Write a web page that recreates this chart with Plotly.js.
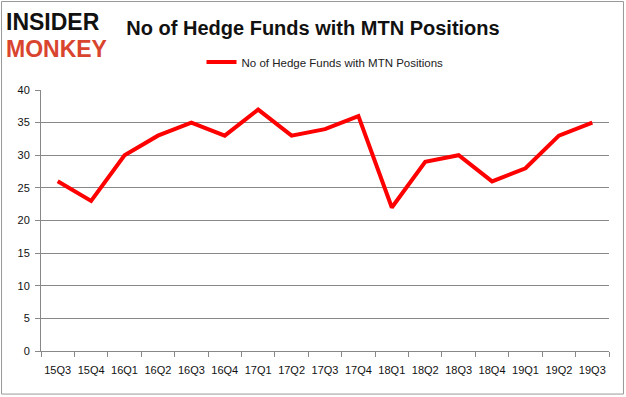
<!DOCTYPE html>
<html><head><meta charset="utf-8">
<script src="https://cdn.plot.ly/plotly-3.0.1.min.js"></script>
<style>html,body{margin:0;padding:0;background:#fff}#c{width:626px;height:397px}</style>
</head><body><div id="c"></div>
<script>
const quarters = ["15Q3","15Q4","16Q1","16Q2","16Q3","16Q4","17Q1","17Q2","17Q3","17Q4","18Q1","18Q2","18Q3","18Q4","19Q1","19Q2","19Q3"];
const hedgeFunds = [26,23,30,33,35,33,37,33,34,36,22,29,30,26,28,33,35];
const seriesName = "No of Hedge Funds with MTN Positions";
const yTicks = [0,5,10,15,20,25,30,35,40];

const trace = {
  x: quarters, y: hedgeFunds, type: "scatter", mode: "lines", name: seriesName,
  line: {color: "#ff0000", width: 4}
};
const layout = {
  width: 626, height: 397,
  margin: {l: 41, r: 17, t: 90, b: 46},
  paper_bgcolor: "#fff", plot_bgcolor: "#fff",
  font: {family: "Liberation Sans, Arial, sans-serif", size: 11, color: "#111"},
  title: {text: "<b>No of Hedge Funds with MTN Positions</b>", x: 0.5, xanchor: "center", xref: "container",
          y: 0.93, yanchor: "middle", yref: "container", font: {family: "Liberation Sans, Arial, sans-serif", size: 20, color: "#111"}},
  showlegend: true,
  legend: {orientation: "h", x: 0.5, xanchor: "center", y: 1.107, yanchor: "middle", font: {size: 11.5, color: "#222"}},
  xaxis: {type: "category", showline: true, linecolor: "#888", linewidth: 1, ticks: "outside", tickson: "boundaries",
          ticklen: 5, tickcolor: "#888", showgrid: false, tickfont: {size: 11}, tickangle: 0, ticklabelstandoff: 9,
          range: [-0.5, 16.5]},
  yaxis: {range: [0, 40], tickvals: yTicks, showline: true, linecolor: "#888", linewidth: 1, ticks: "outside",
          ticklen: 5, tickcolor: "#888", gridcolor: "#888", gridwidth: 1, zeroline: false, tickfont: {size: 11},
          ticklabelstandoff: 3},
  shapes: [{type: "rect", xref: "paper", yref: "paper", x0: -0.0695, x1: 1.0255, y0: -0.165, y1: 1.339,
            line: {color: "#999", width: 1}, fillcolor: "rgba(0,0,0,0)"}],
  annotations: [
    {text: "<b>INSIDER</b>", xref: "paper", yref: "paper", x: -0.065, y: 1.318, xanchor: "left", yanchor: "top", showarrow: false,
     font: {family: "Liberation Sans, sans-serif", size: 23, color: "#111"}},
    {text: "<b>MONKEY</b>", xref: "paper", yref: "paper", x: -0.065, y: 1.215, xanchor: "left", yanchor: "top", showarrow: false,
     font: {family: "Liberation Sans, sans-serif", size: 23, color: "#d9442e"}}
  ]
};
Plotly.newPlot("c", [trace], layout, {displayModeBar: false, staticPlot: true});
</script></body></html>
